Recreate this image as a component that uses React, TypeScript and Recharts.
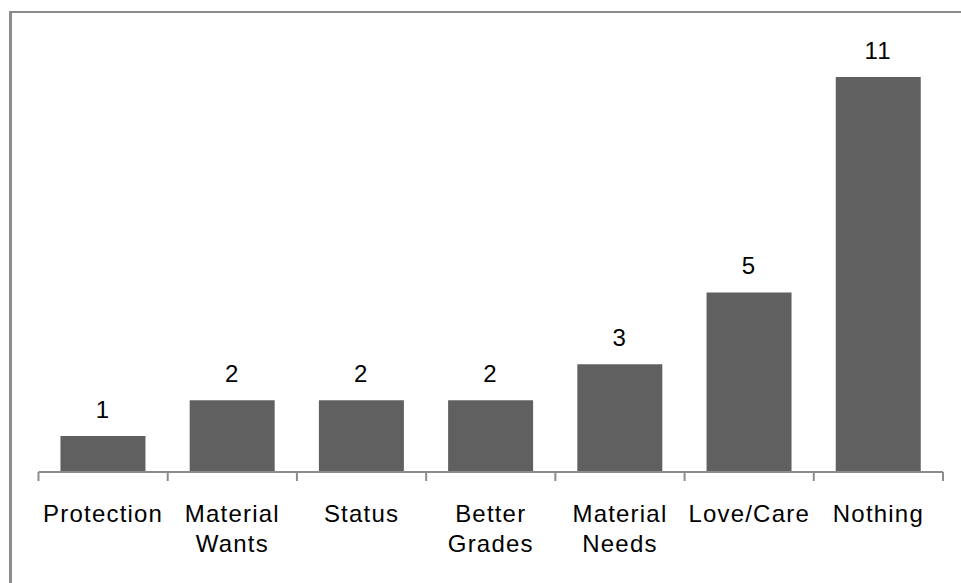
import React from "react";
import { BarChart, Bar, XAxis, YAxis, LabelList } from "recharts";

const categories = ["Protection", "Material Wants", "Status", "Better Grades", "Material Needs", "Love/Care", "Nothing"];
const counts = [1, 2, 2, 2, 3, 5, 11];

const data = categories.map((name, i) => ({ name, value: counts[i] }));

const FONT = "'Liberation Sans', Arial, sans-serif";
const AXIS_COLOR = "#8c8c8c";
const BAR_COLOR = "#606060";

const CategoryTick = (props: any) => {
  const { x, y, payload, index, visibleTicksCount } = props;
  const off = payload && typeof payload.offset === "number" && payload.offset > 0 ? payload.offset : 64.6;
  const words = String(payload.value).split(" ");
  const isLast = index === (visibleTicksCount ?? categories.length) - 1;
  return (
    <g>
      <line x1={x - off} y1={y} x2={x - off} y2={y + 9} stroke={AXIS_COLOR} strokeWidth={2} />
      {isLast && <line x1={x + off} y1={y} x2={x + off} y2={y + 9} stroke={AXIS_COLOR} strokeWidth={2} />}
      {words.map((w, i) => (
        <text
          key={i}
          x={x}
          y={y + 49.5 + i * 30.5}
          textAnchor="middle"
          fill="#000"
          fontFamily={FONT}
          fontSize={24}
          letterSpacing={1.2}
        >
          {w}
        </text>
      ))}
    </g>
  );
};

const ValueLabel = (props: any) => {
  const { x, y, width, value } = props;
  return (
    <text
      x={x + width / 2}
      y={y - 18}
      textAnchor="middle"
      fill="#000"
      fontFamily={FONT}
      fontSize={24}
      letterSpacing={1.2}
    >
      {value}
    </text>
  );
};

export default function App() {
  return (
    <div style={{ position: "absolute", left: 0, top: 0, width: 961, height: 583, background: "#fff", overflow: "hidden" }}>
      <div
        style={{
          position: "absolute",
          left: 9,
          top: 11,
          width: 2000,
          height: 2000,
          borderLeft: `3px solid ${AXIS_COLOR}`,
          borderTop: `2px solid ${AXIS_COLOR}`,
        }}
      />
      <div style={{ position: "absolute", left: 0, top: 0 }}>
        <BarChart
          width={961}
          height={583}
          data={data}
          margin={{ top: 41, right: 18, bottom: 0, left: 38.5 }}
          barCategoryGap="17%"
        >
          <YAxis hide domain={[0, 12]} type="number" allowDataOverflow />
          <XAxis
            dataKey="name"
            axisLine={{ stroke: AXIS_COLOR, strokeWidth: 2 }}
            tickLine={false}
            tickSize={0}
            tickMargin={0}
            interval={0}
            height={111}
            tick={<CategoryTick />}
          />
          <Bar dataKey="value" fill={BAR_COLOR} isAnimationActive={false}>
            <LabelList dataKey="value" content={<ValueLabel />} />
          </Bar>
        </BarChart>
      </div>
    </div>
  );
}
